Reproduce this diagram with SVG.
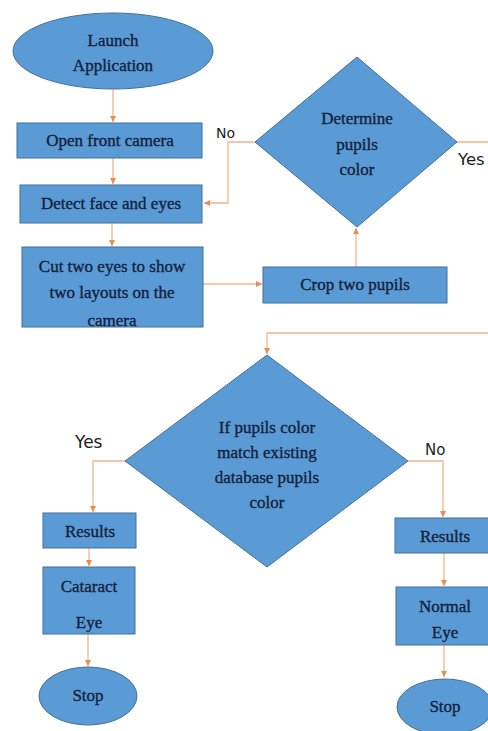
<svg xmlns="http://www.w3.org/2000/svg" width="488" height="731" viewBox="0 0 488 731">
  <style>
    .shape { fill: #5b9bd5; stroke: #41719c; stroke-width: 1; }
    .txt { font-family: "Liberation Serif", "Times New Roman", serif; font-size: 17px; fill: #14213d; stroke: #14213d; stroke-width: 0.35; text-anchor: middle; }
    .lbl { font-family: "DejaVu Sans", "Liberation Sans", sans-serif; fill: #1e1e1e; }
    .conn { fill: none; stroke: #f2b48a; stroke-width: 1.3; }
  </style>
  <defs>
    <marker id="arrow" markerWidth="8" markerHeight="8" refX="6" refY="4" orient="auto" markerUnits="userSpaceOnUse">
      <path d="M0,1 L6,4 L0,7 Z" fill="#ee8a4c"/>
    </marker>
    <clipPath id="cutClip">
      <rect x="22" y="247" width="181" height="80"/>
    </clipPath>
  </defs>

  <rect width="488" height="731" fill="#ffffff"/>

  <!-- connectors -->
  <g id="connectors">
    <path class="conn" d="M113,90 V122" marker-end="url(#arrow)"/>
    <path class="conn" d="M113,158 V184" marker-end="url(#arrow)"/>
    <path class="conn" d="M112,223 V246" marker-end="url(#arrow)"/>
    <path class="conn" d="M203,284 H262" marker-end="url(#arrow)"/>
    <path class="conn" d="M356,267 V228" marker-end="url(#arrow)"/>
    <path class="conn" d="M255,142 H228 V203 H204" marker-end="url(#arrow)"/>
    <path class="conn" d="M457,142 H494 V333 H267 V354" marker-end="url(#arrow)"/>
    <path class="conn" d="M125,461 H93 V512" marker-end="url(#arrow)"/>
    <path class="conn" d="M89,548 V566" marker-end="url(#arrow)"/>
    <path class="conn" d="M88,634 V666" marker-end="url(#arrow)"/>
    <path class="conn" d="M408,461 H443 V517" marker-end="url(#arrow)"/>
    <path class="conn" d="M444,553 V586" marker-end="url(#arrow)"/>
    <path class="conn" d="M444,645 V677" marker-end="url(#arrow)"/>
    <text class="lbl" x="216" y="138" font-size="14">No</text>
    <text class="lbl" x="458" y="165" font-size="16.5">Yes</text>
    <text class="lbl" x="75" y="448" font-size="17">Yes</text>
    <text class="lbl" x="425" y="455" font-size="15">No</text>
  </g>

  <g id="launch">
    <ellipse class="shape" cx="113" cy="51" rx="100" ry="38"/>
    <text class="txt" x="113" y="46">Launch</text>
    <text class="txt" x="113" y="71">Application</text>
  </g>

  <g id="open-camera">
    <rect class="shape" x="17" y="123" width="185" height="35"/>
    <text class="txt" x="110" y="146">Open front camera</text>
  </g>

  <g id="detect">
    <rect class="shape" x="20" y="185" width="182" height="38"/>
    <text class="txt" x="111" y="209">Detect face and eyes</text>
  </g>

  <g id="cut-eyes">
    <rect class="shape" x="22" y="247" width="181" height="80"/>
    <g clip-path="url(#cutClip)">
      <text class="txt" x="112" y="272">Cut two eyes to show</text>
      <text class="txt" x="112" y="298">two layouts on the</text>
      <text class="txt" x="112" y="326">camera</text>
    </g>
  </g>

  <g id="crop-pupils">
    <rect class="shape" x="263" y="267" width="184" height="36"/>
    <text class="txt" x="355" y="290">Crop two pupils</text>
  </g>

  <g id="determine">
    <polygon class="shape" points="357,57 457,142 357,227 255,142"/>
    <text class="txt" x="357" y="124">Determine</text>
    <text class="txt" x="357" y="150">pupils</text>
    <text class="txt" x="357" y="175">color</text>
  </g>

  <g id="match">
    <polygon class="shape" points="267,355 408,461 267,567 125,461"/>
    <text class="txt" x="267" y="433">If pupils color</text>
    <text class="txt" x="267" y="458">match existing</text>
    <text class="txt" x="267" y="483">database pupils</text>
    <text class="txt" x="267" y="508">color</text>
  </g>

  <g id="results-yes">
    <rect class="shape" x="43" y="513" width="93" height="35"/>
    <text class="txt" x="90" y="537">Results</text>
  </g>

  <g id="cataract">
    <rect class="shape" x="43" y="567" width="92" height="67"/>
    <text class="txt" x="89" y="592">Cataract</text>
    <text class="txt" x="89" y="628">Eye</text>
  </g>

  <g id="stop-yes">
    <ellipse class="shape" cx="88" cy="696" rx="49" ry="29"/>
    <text class="txt" x="88" y="701">Stop</text>
  </g>

  <g id="results-no">
    <rect class="shape" x="395" y="518" width="100" height="35"/>
    <text class="txt" x="445" y="542">Results</text>
  </g>

  <g id="normal">
    <rect class="shape" x="396" y="587" width="100" height="58"/>
    <text class="txt" x="445" y="612">Normal</text>
    <text class="txt" x="445" y="638">Eye</text>
  </g>

  <g id="stop-no">
    <ellipse class="shape" cx="445" cy="707" rx="48" ry="28"/>
    <text class="txt" x="445" y="712">Stop</text>
  </g>
</svg>
